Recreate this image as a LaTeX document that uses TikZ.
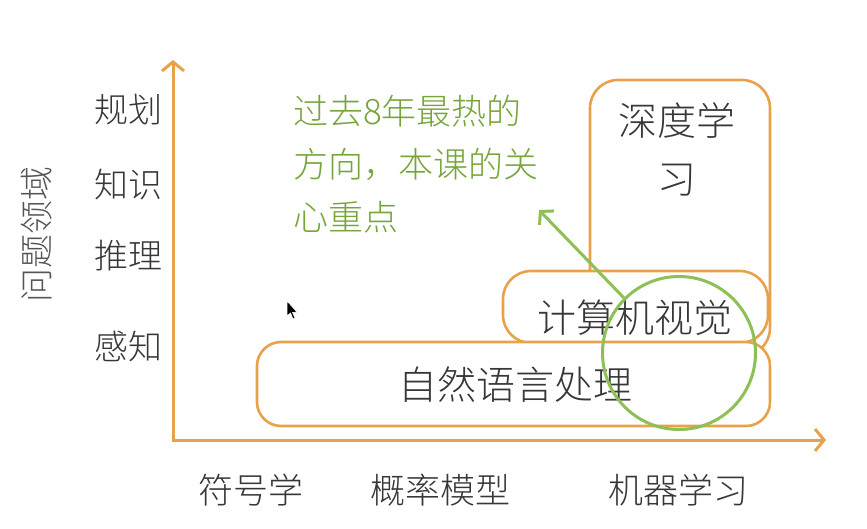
\documentclass[tikz,border=0pt]{standalone}
\usepackage{fontspec}
\IfFontExistsTF{Noto Sans CJK SC Light}{\setmainfont{Noto Sans CJK SC Light}}{\setmainfont{Noto Sans CJK SC}}
\usetikzlibrary{arrows.meta}
\definecolor{axisor}{RGB}{232,162,75}
\definecolor{grn}{RGB}{141,192,85}
\definecolor{grntxt}{RGB}{118,166,58}
\definecolor{txt}{RGB}{55,55,55}
\definecolor{sidetxt}{RGB}{85,85,85}
\tikzset{
  axisline/.style={draw=axisor, line width=3pt, -{Straight Barb[length=9pt,width=22pt]}},
  areabox/.style={draw=axisor, line width=2.6pt, fill=white},
  ylab/.style={text=txt, font=\fontsize{34}{40}\selectfont, inner sep=0pt},
  xlab/.style={text=txt, font=\fontsize{35}{40}\selectfont, inner sep=0pt},
  boxlab/.style={text=txt, font=\fontsize{39}{58}\selectfont, inner sep=0pt, align=center},
  notelab/.style={text=grntxt, font=\fontsize{35}{53}\selectfont, inner sep=0pt, align=left},
  ring/.style={draw=grn, line width=3pt},
  pointer/.style={draw=grn, line width=3pt, -{Straight Barb[length=9pt,width=20pt]}}
}
\begin{document}
\begin{tikzpicture}[x=1pt,y=-1pt]
\useasboundingbox (0,0) rectangle (867,529);
% axes
\coordinate (o) at (173,441);
\coordinate (ytip) at (173,60);
\coordinate (xtip) at (826,440);
\draw[axisline] (o) -- (ytip);
\draw[axisline] (172,440) -- (xtip);
% axis labels
\node[ylab] (gh) at (128,110) {规划};
\node[ylab] (zs) at (128,185) {知识};
\node[ylab] (tl) at (128,256) {推理};
\node[ylab] (gz) at (128,347) {感知};
\node[ylab, text=sidetxt, rotate=90] (wt) at (37,234) {问题领域};
\node[xlab] (fh) at (251,490) {符号学};
\node[xlab] (gl) at (440,490) {概率模型};
\node[xlab] (jq) at (678,490) {机器学习};
% area boxes
\draw[areabox, rounded corners=28pt] (590,80) rectangle (770,356);
\node[boxlab] (dl) at (677,149) {深度学\\习};
\draw[areabox, rounded corners=28pt] (503,271) rectangle (768,343);
\node[boxlab] (cv) at (635,318) {计算机视觉};
\draw[areabox, rounded corners=24pt] (257,342) rectangle (770,426);
\node[boxlab] (nlp) at (515,385) {自然语言处理};
% highlight
\node[ring, circle, minimum size=153pt, inner sep=0pt] (hl) at (679,353) {};
\node[notelab, anchor=north west] (note) at (293,95) {过去8年最热的\\方向，本课的关\\心重点};
\coordinate (ptip) at (539,210);
\draw[pointer] (hl.135) -- (ptip);
% mouse cursor
\fill[black, draw=white, line width=0.6pt] (287,301) -- (287,316) -- (290.5,313) -- (293,319) -- (295,318) -- (292.5,312.5) -- (297,312) -- cycle;
\end{tikzpicture}
\end{document}
